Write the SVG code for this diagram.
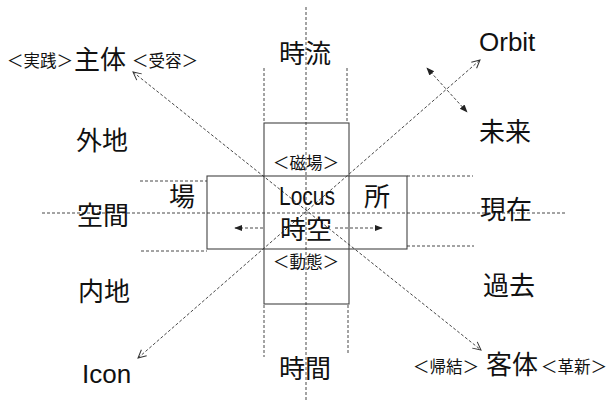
<svg xmlns="http://www.w3.org/2000/svg" width="611" height="402" viewBox="0 0 611 402">
<style>
.jp{font-family:"Noto Sans CJK JP","Noto Sans CJK SC",sans-serif;fill:#111}
.big{font-size:26px}
.sm{font-size:16.5px}
.lat{font-family:"Liberation Sans","DejaVu Sans",sans-serif;fill:#111;font-size:26px}
.mid{text-anchor:middle}
.dash{fill:none;stroke:#333;stroke-width:0.9;stroke-dasharray:3 2}
.box{fill:none;stroke:#444;stroke-width:1.1}
</style>
<defs>
<marker id="open" viewBox="0 0 10 10" refX="9" refY="5" markerWidth="10" markerHeight="10" markerUnits="userSpaceOnUse" orient="auto-start-reverse">
<path d="M1,1 L9,5 L1,9" fill="none" stroke="#333" stroke-width="1"/>
</marker>
<marker id="fill" viewBox="0 0 10 10" refX="9" refY="5" markerWidth="8" markerHeight="8" markerUnits="userSpaceOnUse" orient="auto-start-reverse">
<path d="M0,1 L10,5 L0,9 Z" fill="#222"/>
</marker>
</defs>
<g id="boxes">
<rect class="box" x="264" y="123" width="85" height="181"/>
<rect class="box" x="207" y="176" width="200" height="73"/>
</g>
<g id="connectors">
<line class="dash" x1="306" y1="7" x2="306" y2="402"/>
<line class="dash" x1="264" y1="68" x2="264" y2="122"/>
<line class="dash" x1="347" y1="68" x2="347" y2="122"/>
<line class="dash" x1="264" y1="305" x2="264" y2="357"/>
<line class="dash" x1="348" y1="305" x2="348" y2="355"/>
<line class="dash" x1="42" y1="213" x2="567" y2="213"/>
<line class="dash" x1="140" y1="181" x2="207" y2="181"/>
<line class="dash" x1="141" y1="251" x2="207" y2="251"/>
<line class="dash" x1="407" y1="176" x2="473" y2="176"/>
<line class="dash" x1="407" y1="246" x2="474" y2="246"/>
<line class="dash" x1="133" y1="72" x2="481" y2="350" marker-start="url(#open)" marker-end="url(#open)"/>
<line class="dash" x1="138" y1="358" x2="480" y2="60" marker-start="url(#open)" marker-end="url(#open)"/>
<line class="dash" x1="427" y1="68" x2="467" y2="112" marker-start="url(#fill)" marker-end="url(#fill)"/>
<line class="dash" x1="263" y1="228" x2="235" y2="228" marker-end="url(#fill)"/>
<line class="dash" x1="335" y1="228" x2="382" y2="228" marker-end="url(#fill)"/>
</g>
<g id="subject">
<text class="jp sm" x="7" y="67">＜実践＞</text>
<text class="jp big" x="74" y="69">主体</text>
<text class="jp sm" x="132" y="67">＜受容＞</text>
</g>
<g id="jiryu"><text class="jp big mid" x="305" y="63">時流</text></g>
<g id="orbit"><text class="lat" x="479" y="51">Orbit</text></g>
<g id="gaichi"><text class="jp big mid" x="102" y="150">外地</text></g>
<g id="kukan"><text class="jp big mid" x="103" y="225">空間</text></g>
<g id="naichi"><text class="jp big mid" x="104" y="301">内地</text></g>
<g id="mirai"><text class="jp big mid" x="505" y="141">未来</text></g>
<g id="genzai"><text class="jp big mid" x="506" y="219">現在</text></g>
<g id="kako"><text class="jp big mid" x="509" y="295">過去</text></g>
<g id="icon"><text class="lat" x="82" y="383">Icon</text></g>
<g id="jikan"><text class="jp big mid" x="305" y="378">時間</text></g>
<g id="object">
<text class="jp sm" x="413" y="373">＜帰結＞</text>
<text class="jp big" x="486" y="374">客体</text>
<text class="jp sm" x="541" y="373">＜革新＞</text>
</g>
<g id="center">
<text class="jp sm mid" x="306" y="169">＜磁場＞</text>
<text class="jp big mid" x="182" y="206">場</text>
<text class="lat" x="279" y="205" font-size="27" textLength="56" lengthAdjust="spacingAndGlyphs">Locus</text>
<text class="jp big mid" x="377" y="206">所</text>
<text class="jp big mid" x="306" y="239">時空</text>
<text class="jp sm mid" x="306" y="268">＜動態＞</text>
</g>
</svg>
